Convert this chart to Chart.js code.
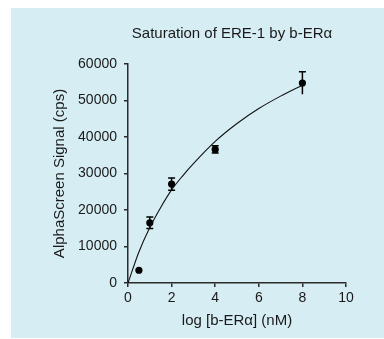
<!DOCTYPE html>
<html>
<head>
<meta charset="utf-8">
<script src="https://cdn.jsdelivr.net/npm/chart.js@4"></script>
<style>
  html, body { margin: 0; padding: 0; background: #ffffff; }
  #wrap { width: 384px; height: 339px; }
</style>
</head>
<body>
<div id="wrap"><canvas id="c" width="384" height="339"></canvas></div>
<script>
// ---- data ----
const TITLE = "Saturation of ERE-1 by b-ER\u03B1";
const X_TITLE = "log [b-ER\u03B1] (nM)";
const Y_TITLE = "AlphaScreen Signal (cps)";

const pointX   = [0.5, 1, 2, 4, 8];
const pointY   = [3500, 16500, 27100, 36600, 54800];
const pointErr = [0, 1600, 1700, 1000, 3100];

const curveX = [0, 0.5, 1, 1.5, 2, 2.5, 3, 4, 5, 6, 7, 8];
const curveY = [0, 8500, 15200, 20700, 25500, 29300, 32700, 38800, 43700, 47800, 51200, 54200];

const xTicks = [0, 2, 4, 6, 8, 10];
const yTicks = [0, 10000, 20000, 30000, 40000, 50000, 60000];

// ---- styles ----
const FONT = '"Liberation Sans", Arial, Helvetica, sans-serif';
const INK = '#1a1a1a';
const AXIS = '#2a2a2a';
const PANEL = 'rgb(214,237,244)';

const panelPlugin = {
  id: 'panel',
  beforeDraw(chart) {
    const ctx = chart.ctx;
    ctx.save();
    ctx.fillStyle = PANEL;
    ctx.fillRect(11, 8, 373, 330);
    ctx.restore();
  }
};

const titlePlugin = {
  id: 'customTitle',
  afterDraw(chart) {
    const ctx = chart.ctx;
    ctx.save();
    ctx.font = '15px ' + FONT;
    ctx.fillStyle = INK;
    ctx.textAlign = 'center';
    ctx.textBaseline = 'middle';
    ctx.fillText(TITLE, 232, 34);
    ctx.restore();
  }
};

const errorBarPlugin = {
  id: 'errorBars',
  beforeDatasetsDraw(chart) {
    const ctx = chart.ctx;
    const xs = chart.scales.x, ys = chart.scales.y;
    ctx.save();
    ctx.strokeStyle = '#000';
    ctx.lineWidth = 1.5;
    pointX.forEach((xv, i) => {
      const e = pointErr[i];
      if (!e) return;
      const px = xs.getPixelForValue(xv);
      const top = ys.getPixelForValue(pointY[i] + e);
      const bot = ys.getPixelForValue(pointY[i] - e);
      ctx.beginPath();
      ctx.moveTo(px, top); ctx.lineTo(px, bot);
      ctx.moveTo(px - 3.5, top); ctx.lineTo(px + 3.5, top);
      if (i !== pointX.length - 1) { ctx.moveTo(px - 3.5, bot); ctx.lineTo(px + 3.5, bot); }
      ctx.stroke();
    });
    ctx.restore();
  }
};

new Chart(document.getElementById('c'), {
  type: 'scatter',
  data: {
    datasets: [
      {
        label: 'fit',
        data: curveX.map((x, i) => ({ x, y: curveY[i] })),
        showLine: true,
        borderColor: '#111',
        borderWidth: 1.1,
        pointRadius: 0,
        cubicInterpolationMode: 'monotone',
        fill: false
      },
      {
        label: 'data',
        data: pointX.map((x, i) => ({ x, y: pointY[i] })),
        showLine: false,
        pointRadius: 3.6,
        pointBackgroundColor: '#000',
        pointBorderColor: '#000',
        pointBorderWidth: 0
      }
    ]
  },
  options: {
    responsive: false,
    animation: false,
    layout: { padding: { top: 64, right: 38, left: 0, bottom: 0 } },
    plugins: { legend: { display: false }, tooltip: { enabled: false }, title: { display: false } },
    scales: {
      x: {
        type: 'linear',
        min: 0, max: 10,
        afterFit(s) { s.height = 56; },
        afterBuildTicks(s) { s.ticks = xTicks.map(v => ({ value: v })); },
        border: { display: true, color: AXIS, width: 1.5 },
        grid: { display: true, drawOnChartArea: false, drawTicks: true, tickLength: 4, color: AXIS, lineWidth: 1.5 },
        ticks: { color: INK, font: { family: FONT, size: 14 }, padding: 3 },
        title: { display: true, text: X_TITLE, color: INK, font: { family: FONT, size: 15 }, padding: { top: 0, bottom: 9 } }
      },
      y: {
        type: 'linear',
        min: 0, max: 60000,
        afterFit(s) { s.width = 128; },
        afterBuildTicks(s) { s.ticks = yTicks.map(v => ({ value: v })); },
        border: { display: true, color: AXIS, width: 1.5 },
        grid: { display: true, drawOnChartArea: false, drawTicks: true, tickLength: 4, color: AXIS, lineWidth: 1.5 },
        ticks: { color: INK, font: { family: FONT, size: 14 }, padding: 7, callback: v => String(v) },
        title: { display: true, text: Y_TITLE, color: INK, font: { family: FONT, size: 15 }, padding: { top: 51, bottom: 51 } }
      }
    }
  },
  plugins: [panelPlugin, titlePlugin, errorBarPlugin]
});
</script>
</body>
</html>
